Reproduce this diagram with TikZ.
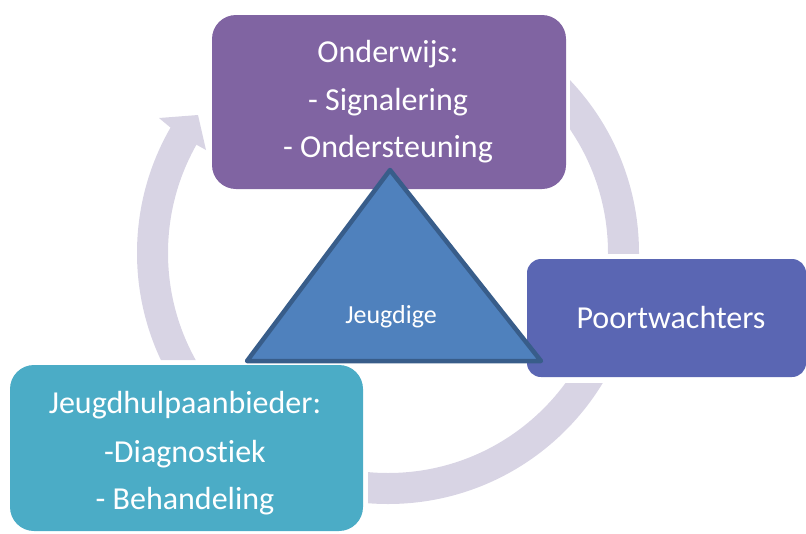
\documentclass[tikz,border=0pt]{standalone}
\usepackage{fontspec}
\setmainfont{Carlito}[Ligatures=NoCommon]
\definecolor{ringc}{HTML}{D8D4E4}
\definecolor{purp}{HTML}{8064A2}
\definecolor{poort}{HTML}{5A66B3}
\definecolor{teal}{HTML}{4BACC6}
\definecolor{trifill}{HTML}{4F81BD}
\definecolor{tridraw}{HTML}{385D8A}
\tikzset{
  btxt/.style={text=white, anchor=base, inner sep=0pt, font=\fontsize{32}{38}\selectfont},
  ring/.style={fill=ringc, draw=none}
}
\begin{document}
\begin{tikzpicture}[x=1pt,y=-1pt]
\useasboundingbox (0,0) rectangle (806,533);
% ring segments
\coordinate (ctr) at (388,253);
\begin{scope}
  \clip (570,0) rectangle (806,253);
  \fill[ring, even odd rule] (ctr) circle (251) (ctr) circle (220);
\end{scope}
\begin{scope}
  \clip (368,383) rectangle (806,533);
  \fill[ring, even odd rule] (ctr) circle (251) (ctr) circle (220);
\end{scope}
\begin{scope}
  \clip (388,253) -- (42,53) -- (0,53) -- (0,360) -- (388,360) -- cycle;
  \fill[ring, even odd rule] (ctr) circle (251) (ctr) circle (220);
\end{scope}
\fill[ring] (159,118) -- (198,115) -- (206,150) -- (197,145) -- (171,128) -- cycle;
% boxes
\fill[purp, rounded corners=24pt] (212,15) rectangle (566,189);
\node[inner sep=0pt, minimum size=0pt] (onderwijs) at (389,102) {};
\fill[poort, rounded corners=14pt] (527,259) rectangle (806,377);
\node[inner sep=0pt, minimum size=0pt] (poortbox) at (666,318) {};
\fill[teal, rounded corners=24pt] (10,365) rectangle (363,531);
\node[inner sep=0pt, minimum size=0pt] (jhbox) at (186,448) {};
% texts
\node[btxt] (o1) at (388,62) {Onderwijs:};
\node[btxt] (o2) at (388,110) {- Signalering};
\node[btxt] (o3) at (388,157) {- Ondersteuning};
\node[btxt] (p1) at (671,328) {Poortwachters};
\node[btxt] (j1) at (185,413) {Jeugdhulpaanbieder:};
\node[btxt] (j2) at (185,462) {-Diagnostiek};
\node[btxt] (j3) at (185,509) {- Behandeling};
% triangle
\draw[fill=trifill, draw=tridraw, line width=4.5pt, line join=round] (390,170) -- (541,361) -- (247,361) -- cycle;
\node[text=white, anchor=base, inner sep=0pt, font=\fontsize{26}{30}\selectfont] (jeugdige) at (391,323) {Jeugdige};
\end{tikzpicture}
\end{document}
